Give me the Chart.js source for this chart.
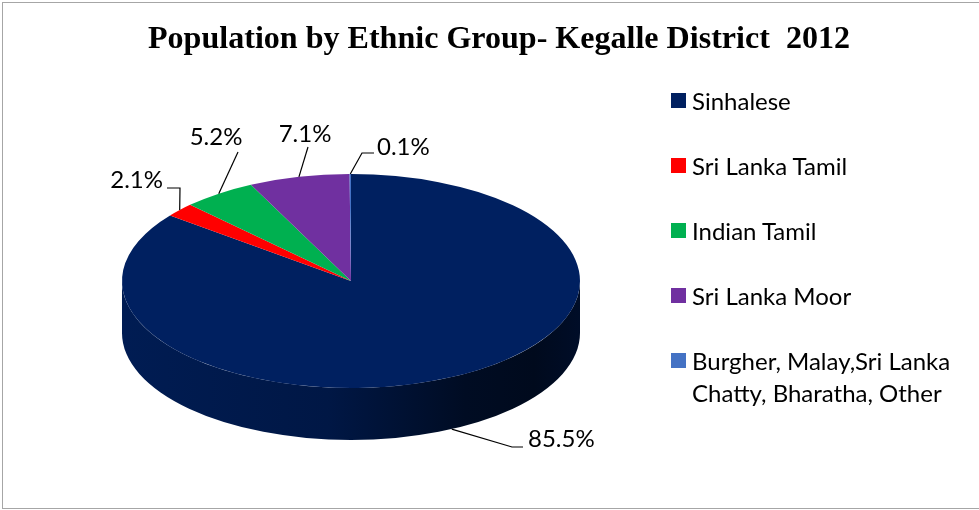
<!DOCTYPE html>
<html lang="en">
<head>
<meta charset="UTF-8">
<title>Population by Ethnic Group- Kegalle District 2012</title>
<script src="https://cdn.jsdelivr.net/npm/chart.js"></script>
<style>
    html, body {
        margin: 0;
        padding: 0;
        background: #fff;
    }
    .frame {
        position: relative;
        width: 979px;
        height: 510px;
        overflow: hidden;
    }
    .edge {
        position: absolute;
        left: 2px;
        top: 2px;
        width: 1000px;
        height: 507px;
        border: 1px solid #a6a6a6;
        box-sizing: border-box;
    }
    #pie {
        position: absolute;
        left: 0;
        top: 0;
    }
    #legend {
        position: absolute;
        left: 671px;
        top: 85px;
        margin: 0;
        padding: 0;
        list-style: none;
        font-family: Lato, sans-serif;
        font-size: 24px;
        line-height: 32px;
        color: #000;
    }
    #legend li {
        display: flex;
        align-items: flex-start;
        margin-bottom: 33px;
    }
    #legend .box {
        width: 15px;
        height: 15px;
        margin-top: 8px;
        margin-right: 6px;
        flex: none;
    }
</style>
</head>
<body>
<div class="frame">
    <div class="edge"></div>
    <canvas id="pie" width="979" height="510"></canvas>
    <ul id="legend"></ul>
</div>

<script>
    const chartTitle = 'Population by Ethnic Group- Kegalle District  2012';
    const categories = [
        'Sinhalese',
        'Sri Lanka Tamil',
        'Indian Tamil',
        'Sri Lanka Moor',
        ['Burgher, Malay,Sri Lanka', 'Chatty, Bharatha, Other']
    ];
    const shares = [85.5, 2.1, 5.2, 7.1, 0.1];
    const sliceColors = ['#002060', '#FF0000', '#00B050', '#7030A0', '#4472C4'];

    // tilt of the pie (ry / rx) and height of its rim
    const TILT = 107 / 229;
    const DEPTH = 52;

    // where the percentage labels and their leader lines go (one per slice)
    const labelSpots = [
        { path: [[512, 447], [523, 447]], text: [528, 447], align: 'left' },
        { path: [[180, 188], [167, 188]], text: [163, 188], align: 'right' },
        { path: [[238, 152]], text: [216, 145], align: 'center' },
        { path: [[308, 147]], text: [305, 142], align: 'center' },
        { path: [[362, 153], [374, 153]], text: [377, 155], align: 'left' }
    ];

    function shade(hex, f) {
        const n = parseInt(hex.slice(1), 16);
        const r = Math.round(((n >> 16) & 255) * f);
        const g = Math.round(((n >> 8) & 255) * f);
        const b = Math.round((n & 255) * f);
        return `rgb(${r},${g},${b})`;
    }

    // draws the rim under the top face and squashes the pie into an ellipse
    const pie3d = {
        id: 'pie3d',
        beforeDatasetsDraw(chart) {
            const ctx = chart.ctx;
            const arcs = chart.getDatasetMeta(0).data;
            arcs.forEach((arc, i) => {
                const a1 = Math.max(arc.startAngle, 0);
                const a2 = Math.min(arc.endAngle, Math.PI);
                if (a2 <= a1) return;
                const r = arc.outerRadius;
                const base = sliceColors[i];
                const grad = ctx.createLinearGradient(arc.x - r, 0, arc.x + r, 0);
                grad.addColorStop(0, shade(base, 0.86));
                grad.addColorStop(0.45, shade(base, 0.72));
                grad.addColorStop(0.75, shade(base, 0.36));
                grad.addColorStop(0.9, shade(base, 0.3));
                grad.addColorStop(1, shade(base, 0.42));
                ctx.save();
                ctx.beginPath();
                ctx.ellipse(arc.x, arc.y, r, r * TILT, 0, a1, a2);
                ctx.ellipse(arc.x, arc.y + DEPTH, r, r * TILT, 0, a2, a1, true);
                ctx.closePath();
                ctx.fillStyle = grad;
                ctx.fill();
                ctx.restore();
            });
        },
        beforeDatasetDraw(chart) {
            const ctx = chart.ctx;
            const arc = chart.getDatasetMeta(0).data[0];
            ctx.save();
            ctx.translate(arc.x, arc.y);
            ctx.scale(1, TILT);
            ctx.translate(-arc.x, -arc.y);
        },
        afterDatasetDraw(chart) {
            chart.ctx.restore();
        }
    };

    const sliceLabels = {
        id: 'sliceLabels',
        afterDatasetsDraw(chart) {
            const ctx = chart.ctx;
            const arcs = chart.getDatasetMeta(0).data;
            ctx.save();
            ctx.font = '24px Lato, sans-serif';
            ctx.fillStyle = '#000';
            ctx.strokeStyle = '#000';
            ctx.lineWidth = 1.2;
            arcs.forEach((arc, i) => {
                const spot = labelSpots[i];
                const mid = (arc.startAngle + arc.endAngle) / 2;
                const drop = Math.sin(mid) > 0 ? DEPTH : 0;
                const ax = arc.x + arc.outerRadius * Math.cos(mid);
                const ay = arc.y + arc.outerRadius * TILT * Math.sin(mid) + drop;
                ctx.beginPath();
                ctx.moveTo(ax, ay);
                spot.path.forEach(p => ctx.lineTo(p[0], p[1]));
                ctx.stroke();
                ctx.textAlign = spot.align;
                ctx.textBaseline = 'alphabetic';
                ctx.fillText(shares[i].toFixed(1) + '%', spot.text[0], spot.text[1]);
            });
            ctx.restore();
        }
    };

    const narrowTitle = {
        id: 'narrowTitle',
        afterDraw(chart) {
            const ctx = chart.ctx;
            ctx.save();
            ctx.font = 'bold 32px "Liberation Serif", "Times New Roman", serif';
            ctx.fillStyle = '#000';
            ctx.textAlign = 'center';
            ctx.textBaseline = 'alphabetic';
            const w = ctx.measureText(chartTitle).width;
            ctx.translate(499, 48);
            ctx.scale(702 / w, 1);
            ctx.fillText(chartTitle, 0, 0);
            ctx.restore();
        }
    };

    // legend built in HTML from the chart's own labels and colours
    const htmlLegend = {
        id: 'htmlLegend',
        afterUpdate(chart) {
            const list = document.getElementById('legend');
            list.innerHTML = '';
            const ds = chart.data.datasets[0];
            chart.data.labels.forEach((label, i) => {
                const li = document.createElement('li');
                const box = document.createElement('span');
                box.className = 'box';
                box.style.background = ds.backgroundColor[i];
                const txt = document.createElement('span');
                txt.innerHTML = [].concat(label).join('<br>');
                li.appendChild(box);
                li.appendChild(txt);
                list.appendChild(li);
            });
        }
    };

    new Chart(document.getElementById('pie'), {
        type: 'pie',
        data: {
            labels: categories,
            datasets: [{
                data: shares,
                backgroundColor: sliceColors,
                borderWidth: 0,
                radius: 229,
                clip: false
            }]
        },
        options: {
            responsive: false,
            animation: false,
            events: [],
            layout: {
                padding: { left: 122, right: 399, top: 52, bottom: 0 }
            },
            plugins: {
                legend: { display: false },
                title: { display: false },
                tooltip: { enabled: false }
            }
        },
        plugins: [pie3d, sliceLabels, narrowTitle, htmlLegend]
    });
</script>
</body>
</html>
